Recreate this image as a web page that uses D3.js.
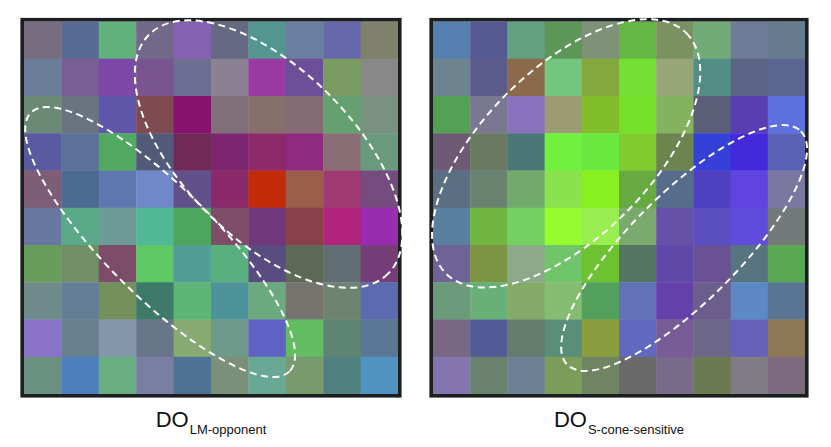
<!DOCTYPE html>
<html>
<head>
<meta charset="utf-8">
<script src="https://cdn.jsdelivr.net/npm/d3@7"></script>
<style>
  html, body { margin: 0; padding: 0; background: #ffffff; }
  svg { display: block; }
</style>
</head>
<body>
<svg id="chart" width="831" height="447"></svg>
<script>
// ---- data: cell colours, row by row (10 x 10) ----
const lmCells = [
  ["#766e7e","#586b94","#62b27e","#72688a","#8462b0","#656a82","#52968f","#6a7fa0","#6666aa","#7f816d"],
  ["#6a7e9a","#7a5e96","#7b48a8","#78558f","#6e6e92","#8a8192","#9c3aa4","#6c4f98","#7a9c62","#888888"],
  ["#6a8a76","#6a7480","#6056aa","#7f4a52","#86146e","#80707a","#876f6c","#846c74","#65a070","#7a9080"],
  ["#5a5aa0","#5c729a","#52aa62","#525a7a","#702a5a","#7c2670","#8e2a6a","#902a80","#8a6e76","#6a9a7e"],
  ["#7e5e76","#4c6a92","#6078b0","#7088c8","#62508a","#8a2a6a","#c22c08","#9a5e4a","#a03a72","#744c7e"],
  ["#6878a0","#5aaa8a","#6e9a98","#50b894","#4ca65e","#7e4e68","#70387a","#8a4048","#b0247e","#9a2cb0"],
  ["#6a9c5c","#728e66","#7c4c68","#5ec864","#529e96","#58b07e","#5a4c80","#5e6a56","#626e76","#763e78"],
  ["#6e8a8a","#647e96","#74905a","#3e7a6a","#5eb676","#4e929a","#6aaa7e","#76746e","#6e8470","#5c6ab0"],
  ["#8a72c8","#66808e","#8496aa","#68768a","#86aa72","#6e9a8c","#5e62c4","#62bc62","#5e8474","#5a7896"],
  ["#6a9080","#4e80c0","#6aae82","#7a7ea0","#4e7294","#7a9078","#6aa896","#789a6e","#508080","#5092c0"]
];
const sCells = [
  ["#5580b0","#565a92","#62a082","#5c9658","#7e9278","#66b646","#7a9262","#72aa78","#6e7c98","#667a90"],
  ["#6e8490","#5c5c8c","#8a6a4a","#74c67e","#82a83e","#74e034","#96a676","#528e86","#5a6484","#5a6690"],
  ["#54a054","#7a7890","#8a72bc","#9c9c74","#82be2c","#74e02a","#84b25e","#5a5e78","#583eb0","#5e70e0"],
  ["#6e5a74","#6a7a62","#4a7876","#72f040","#6ae840","#80cc30","#6c844e","#3440d8","#4428dc","#5a62b8"],
  ["#5c6e82","#6a8270","#72aa6e","#8ae24c","#88f01e","#68aa42","#566c8a","#4e40c0","#6044e0","#7a78a0"],
  ["#5a80a0","#70b640","#74d060","#96fc30","#98ee50","#7aaa6e","#6650a8","#5a4ec0","#604cdc","#747a7a"],
  ["#6e6296","#7c9444","#8caa8a","#70c46a","#6cc230","#567664","#6048a8","#6a5094","#587480","#5aa852"],
  ["#6a9a7a","#68b078","#84aa68","#84bc72","#52a05c","#6272b8","#6440aa","#6c5e8c","#5c88c4","#5a7494"],
  ["#786884","#525a98","#627c6e","#5a8e78","#8a9e40","#6068c0","#785c98","#6c6688","#6660b8","#8c7856"],
  ["#8474b0","#6c8270","#6c8294","#7c9c5a","#6e8462","#6a6a6a","#786a8a","#6c7a54","#807c84","#7c6a7e"]
];
// dashed ellipses in grid units: centre column/row, semi-axes (cells), rotation (deg)
const lmEllipses = [
  { cx: 6.54, cy: 3.56, a: 4.52, b: 2.27, angle: 45 },
  { cx: 3.64, cy: 5.92, a: 4.89, b: 1.46, angle: 45 }
];
const sEllipses = [
  { cx: 3.58, cy: 3.54, a: 4.57, b: 2.26, angle: -45 },
  { cx: 6.75, cy: 6.08, a: 4.44, b: 1.46, angle: -45 }
];
const labelMain = "DO";
const lmSub = "LM-opponent";
const sSub = "S-cone-sensitive";

const svg = d3.select("#chart");
const idx = d3.range(10);

function panel(cells, ellipses, x0, x1, sub) {
  const y0 = 21.5, y1 = 394;
  const xBand = d3.scaleBand().domain(idx).range([x0, x1]).paddingInner(0).paddingOuter(0);
  const yBand = d3.scaleBand().domain(idx).range([y0, y1]).paddingInner(0).paddingOuter(0);
  const gx = d3.scaleLinear().domain([0, 10]).range([x0, x1]);
  const gy = d3.scaleLinear().domain([0, 10]).range([y0, y1]);
  const g = svg.append("g");

  const flat = [];
  cells.forEach((row, r) => row.forEach((c, k) => flat.push({ r, k, c })));
  g.selectAll("rect.cell").data(flat).join("rect")
    .attr("class", "cell")
    .attr("x", d => xBand(d.k))
    .attr("y", d => yBand(d.r))
    .attr("width", xBand.bandwidth() + 0.4)
    .attr("height", yBand.bandwidth() + 0.4)
    .attr("fill", d => d.c);

  // frame
  g.append("rect")
    .attr("x", x0 - 1.8).attr("y", y0 - 1.8)
    .attr("width", x1 - x0 + 3.6).attr("height", y1 - y0 + 3.6)
    .attr("fill", "none").attr("stroke", "#1b1f1f").attr("stroke-width", 3.6);

  const cw = (x1 - x0) / 10;
  g.selectAll("ellipse").data(ellipses).join("ellipse")
    .attr("cx", 0).attr("cy", 0)
    .attr("rx", d => d.a * cw).attr("ry", d => d.b * cw)
    .attr("transform", d => `translate(${gx(d.cx)},${gy(d.cy)}) rotate(${d.angle})`)
    .attr("fill", "none").attr("stroke", "#ffffff")
    .attr("stroke-width", 2).attr("stroke-dasharray", "7,4.5");

  const t = g.append("text")
    .attr("x", (x0 + x1) / 2).attr("y", 427)
    .attr("text-anchor", "middle")
    .attr("font-family", "'Liberation Sans', Arial, Helvetica, sans-serif")
    .attr("fill", "#111");
  t.append("tspan").attr("font-size", 22).text(labelMain);
  t.append("tspan").attr("font-size", 13).attr("dy", 7).attr("dx", 1).text(sub);
}

panel(lmCells, lmEllipses, 24, 398, lmSub);
panel(sCells, sEllipses, 433, 805, sSub);
</script>
</body>
</html>
